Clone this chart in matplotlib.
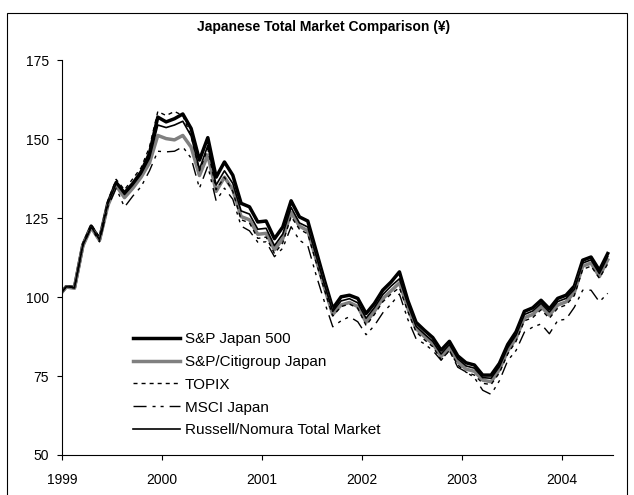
import matplotlib
matplotlib.use('Agg')
import matplotlib.pyplot as plt
import numpy as np
from matplotlib.patches import Rectangle

plt.rcParams['font.family'] = ['Liberation Sans', 'DejaVu Sans']

# monthly index levels, Dec 1998 = 100, through Jun 2004
years = ['1999', '2000', '2001', '2002', '2003', '2004']

sp_japan500 = [100, 103.3, 103.1, 116.5, 122.5, 118.3, 129.7, 136.3, 133, 136,
               139.7, 145.5, 157, 155.5, 156.5, 158, 153.4, 143.4, 150.5, 138,
               142.8, 138.6, 129.7, 128.6, 123.8, 124.1, 118.5, 122.2, 130.5, 125.4,
               124.1, 114.7, 105.3, 96.4, 100.1, 100.6, 99.6, 94.8, 98, 102.2,
               104.8, 108, 99, 92, 89.5, 87.2, 83.2, 86, 81.4, 79.2,
               78.5, 75.3, 75.3, 79, 85, 89, 95.5, 96.6, 99, 96.3,
               99.6, 100.6, 103.5, 111.7, 112.7, 108.5, 113.8]

sp_citigroup = [100, 103.2, 102.8, 116.2, 122, 118, 129, 135.3, 131.5, 134.5,
                138, 142.5, 151.2, 150.2, 149.8, 151.2, 147.5, 138.5, 145, 133.5,
                138, 134, 125.5, 124.5, 119.9, 120.2, 115, 118.5, 126.8, 122.5,
                121, 112, 103, 94.5, 97.5, 98.3, 97, 92, 95.5, 99.5,
                102, 104.5, 96.5, 90, 87.5, 85.3, 81.2, 84, 79.5, 77.2,
                76.5, 73.7, 73.2, 77, 83, 87, 93.5, 94.5, 97, 94.3,
                97.5, 98.5, 101.5, 109.8, 110.8, 106.5, 111.8]

topix = [100, 103.4, 103.3, 117, 123, 119, 130.5, 137.3, 134, 137.5,
         141, 147.5, 158.8, 157.5, 158.8, 157.5, 151, 140, 147, 134,
         138, 133.5, 124.5, 123.5, 118.6, 119, 113.8, 117.2, 125.5, 121.5,
         120, 111, 102.3, 94, 97, 97.8, 96.5, 91, 94.5, 98.5,
         101, 103, 95.5, 89, 86.5, 84.3, 80.2, 83, 78.5, 76.2,
         75.3, 72.7, 72.3, 76, 82, 86, 92.5, 93.5, 96, 93.3,
         96.5, 97.5, 100.5, 108.8, 109.8, 106, 110.5]

msci_japan = [100, 103.2, 102.9, 116.2, 122, 117.5, 128.5, 134.5, 128.5, 132,
              135, 140, 146.2, 146, 146.2, 147.6, 144, 134.5, 141.5, 130.5,
              134.5, 131, 122.5, 121, 117.4, 117.5, 112.8, 115.5, 122.3, 118,
              116.3, 107, 98.5, 90.6, 92.5, 93.8, 92.2, 88.1, 91, 95,
              97.8, 101, 93, 86.8, 85.2, 83.1, 80, 83.1, 77.8, 76.3,
              74.5, 70.5, 69.2, 73.5, 79.9, 83.1, 88.9, 90.5, 91.5, 88.4,
              92.6, 93, 96.8, 102.2, 102.2, 98.5, 101.2]

russell_nomura = [100, 103.3, 103, 116.4, 122.3, 118.2, 129.5, 136, 132.5, 135.5,
                  139, 144, 154.5, 153.7, 154.5, 155.7, 151, 140.5, 148, 135.5,
                  140, 136, 127.3, 126.3, 121.5, 121.8, 116.3, 120, 128.4, 123.5,
                  122.2, 113.2, 104, 95.5, 98.8, 99.5, 98.2, 93.3, 96.7, 100.8,
                  103.5, 105.8, 97.8, 90.8, 88.3, 86, 82, 85, 80.5, 78.2,
                  77.5, 74.5, 74.3, 78, 84, 88, 94.5, 95.6, 98, 95.3,
                  98.6, 99.6, 102.5, 110.8, 111.8, 107.5, 112.8]

months = np.arange(len(sp_japan500))

fig = plt.figure(figsize=(6.34, 4.95), dpi=100)
ax = fig.add_axes([62 / 634, 40 / 495, 550.7 / 634, 394.7 / 495])

ax.plot(months, sp_japan500, color='black', lw=2.5, label='S&P Japan 500')
ax.plot(months, sp_citigroup, color='#808080', lw=2.5, label='S&P/Citigroup Japan')
ax.plot(months, topix, color='black', lw=1, ls=(0, (2.9, 2.9)), label='TOPIX')
ax.plot(months, msci_japan, color='black', lw=1,
        ls=(0, (9.4, 4.3, 2.2, 3.6, 2.2, 4.3)), label='MSCI Japan')
ax.plot(months, russell_nomura, color='black', lw=1.2, label='Russell/Nomura Total Market')

ax.set_xlim(0.5, 66.6)
ax.set_ylim(50, 175)
ax.set_xticks(np.arange(len(years)) * 12 + 0.5)
ax.set_xticklabels(years)
ax.set_yticks([50, 75, 100, 125, 150, 175])

for s in ['top', 'right']:
    ax.spines[s].set_visible(False)
for s in ['left', 'bottom']:
    ax.spines[s].set_linewidth(0.8)
ax.tick_params(direction='out', length=3.6, width=0.8, labelsize=10)
ax.tick_params(axis='y', pad=6)
ax.tick_params(axis='x', pad=9.5)

fig.text(323.5 / 634, 1 - 27.5 / 495, 'Japanese Total Market Comparison (\u00a5)',
         ha='center', va='center', fontsize=10, fontweight='bold')

ax.legend(loc='upper left', bbox_to_anchor=(133 / 634, 1 - 332 / 495),
          bbox_transform=fig.transFigure, frameon=False, fontsize=11,
          handlelength=3.1, handletextpad=0.3, labelspacing=0.58,
          borderpad=0, borderaxespad=0)

fig.patches.append(Rectangle((7 / 634, -0.02), 620 / 634, 1.02 - 13 / 495,
                             transform=fig.transFigure, fill=False,
                             edgecolor='black', lw=0.8))

fig.savefig('out.png', dpi=100)
